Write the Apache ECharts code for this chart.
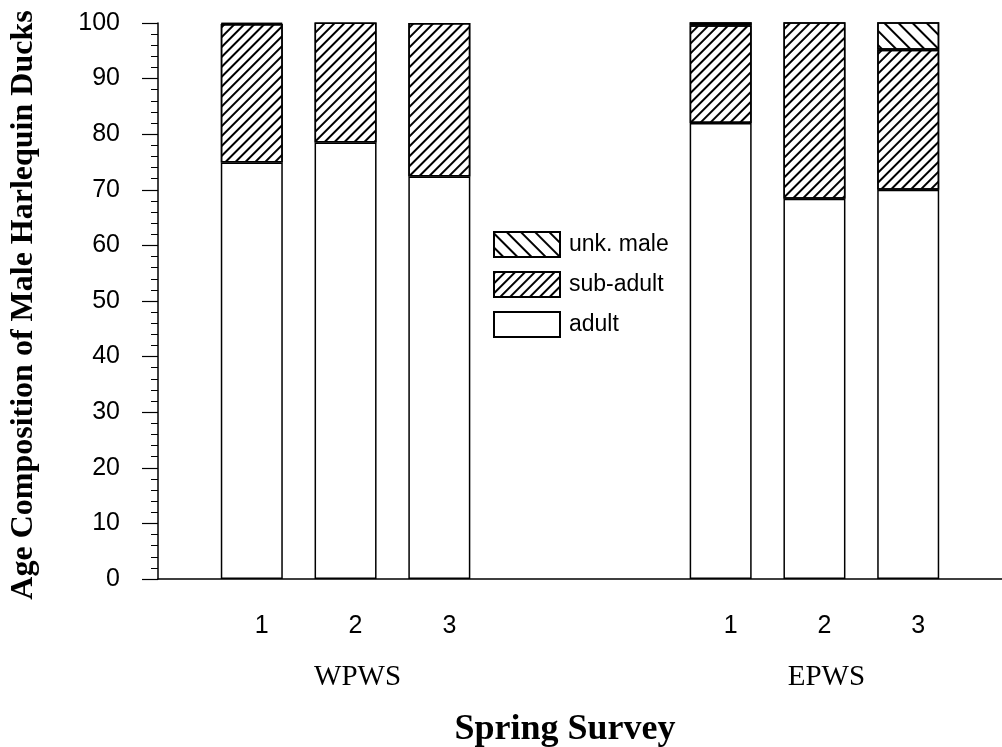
<!DOCTYPE html>
<html>
<head>
<meta charset="utf-8">
<script src="https://cdn.jsdelivr.net/npm/echarts@6/dist/echarts.min.js"></script>
<style>html,body{margin:0;padding:0;background:#fff}#c{width:1002px;height:747px}</style>
</head>
<body>
<div id="c"></div>
<script>
// Category slots along the x axis ('' = empty slot)
const slots = ['', 'W1', 'W2', 'W3', '', '', 'E1', 'E2', 'E3', ''];
const surveyLabels = ['', '1', '2', '3', '', '', '1', '2', '3', ''];
const groupLabels = ['', '', 'WPWS', '', '', '', '', 'EPWS', '', ''];
const seriesNames = ['adult', 'sub-adult', 'unk. male'];
// percent values per slot (null = no bar)
const adult =    [null, 74.9, 78.5, 72.4, null, null, 82.0, 68.4, 70.0, null];
const subAdult = [null, 24.9, 21.6, 27.6, null, null, 17.6, 32.0, 25.2, null];
const unkMale =  [null, 0.2, 0.0, 0.3, null, null, 1.1, 0.3, 5.6, null];
const yTicks = [0, 10, 20, 30, 40, 50, 60, 70, 80, 90, 100];

const chart = echarts.init(document.getElementById('c'), null, {renderer: 'canvas'});
const sans = 'Liberation Sans, Arial, sans-serif';
const serif = 'Liberation Serif, Times New Roman, serif';
const border = {borderColor: '#000', borderWidth: 1.5};

const option = {
  animation: false,
  backgroundColor: '#fff',
  grid: {left: 158, right: 0, top: 23, bottom: 168, containLabel: false, outerBoundsMode: 'none'},
  legend: {
    data: [seriesNames[2], seriesNames[1], seriesNames[0]],
    orient: 'vertical', left: 488, top: 226,
    itemWidth: 66, itemHeight: 25, itemGap: 13,
    textStyle: {fontFamily: sans, fontSize: 23, color: '#000', padding: [0, 0, 0, 4]},
    icon: 'rect'
  },
  xAxis: [{
    type: 'category', data: slots, boundaryGap: false,
    axisLine: {show: true, lineStyle: {color: '#000', width: 1.5}},
    axisTick: {show: false}, splitLine: {show: false},
    axisLabel: {
      interval: 0, margin: 35, fontFamily: sans, fontSize: 25, color: '#000',
      padding: [0, 0, 0, 20],
      formatter: (v, i) => surveyLabels[i]
    }
  }, {
    type: 'category', data: slots, boundaryGap: false, position: 'bottom',
    axisLine: {show: false}, axisTick: {show: false}, splitLine: {show: false},
    axisLabel: {
      interval: 0, margin: 84, fontFamily: serif, fontSize: 29, color: '#000',
      padding: [0, 0, 0, 24],
      formatter: (v, i) => groupLabels[i]
    },
    name: 'Spring Survey', nameLocation: 'middle', nameGap: 133,
    nameTextStyle: {fontFamily: serif, fontSize: 36, fontWeight: 'bold', color: '#000', padding: [0, 30, 0, 0]}
  }],
  yAxis: {
    type: 'value', min: yTicks[0], max: yTicks[yTicks.length - 1], interval: 10,
    axisLine: {show: true, lineStyle: {color: '#000', width: 1.5}},
    axisTick: {show: true, length: 16, lineStyle: {color: '#000', width: 1.2}},
    minorTick: {show: true, splitNumber: 5, length: 7, lineStyle: {color: '#000', width: 1}},
    splitLine: {show: false},
    axisLabel: {margin: 38, fontFamily: sans, fontSize: 25, color: '#000'},
    name: 'Age Composition of Male Harlequin Ducks', nameLocation: 'middle', nameGap: 118,
    nameTextStyle: {fontFamily: serif, fontSize: 32, fontWeight: 'bold', color: '#000', padding: [0, 8, 0, 0]}
  },
  series: [{
    name: seriesNames[0], type: 'bar', stack: 'a', barWidth: 62,
    data: adult,
    itemStyle: Object.assign({color: '#fff'}, border)
  }, {
    name: seriesNames[1], type: 'bar', stack: 'a', barWidth: 62,
    data: subAdult,
    itemStyle: Object.assign({
      color: '#fff',
      decal: {symbol: 'rect', symbolSize: 1, color: '#000', dashArrayX: [1, 0], dashArrayY: [1.6, 4.8], rotation: -Math.PI / 4}
    }, border)
  }, {
    name: seriesNames[2], type: 'bar', stack: 'a', barWidth: 62,
    data: unkMale,
    itemStyle: Object.assign({
      color: '#fff',
      decal: {symbol: 'rect', symbolSize: 1, color: '#000', dashArrayX: [1, 0], dashArrayY: [1.6, 7.6], rotation: Math.PI / 4}
    }, border)
  }]
};
chart.setOption(option);
</script>
</body>
</html>
